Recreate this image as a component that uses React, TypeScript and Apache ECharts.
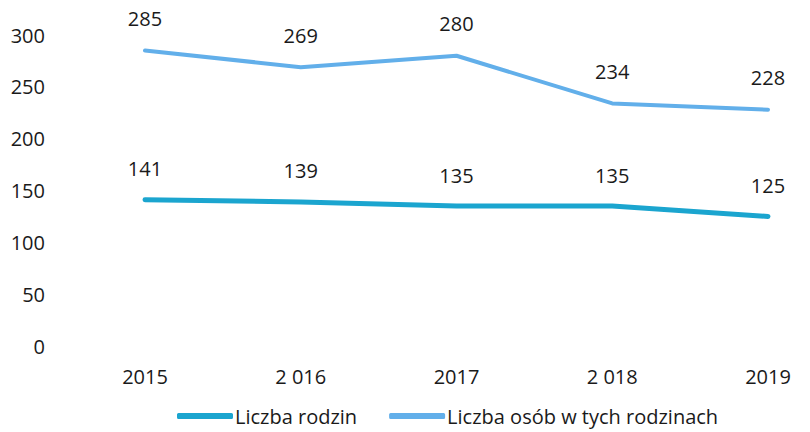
import React, { useEffect, useRef } from "react";
import * as echarts from "echarts";

const categories = ["2015", "2 016", "2017", "2 018", "2019"];
const rodziny = [141, 139, 135, 135, 125];
const osoby = [285, 269, 280, 234, 228];
const seriesNames = ["Liczba rodzin", "Liczba osób w tych rodzinach"];

const FONT = "'Open Sans', sans-serif";
const TXT = "#1a1a1a";

export default function App() {
  const ref = useRef<HTMLDivElement>(null);
  useEffect(() => {
    if (!ref.current) return;
    const chart = echarts.init(ref.current, undefined, { renderer: "svg" });
    chart.setOption({
      animation: false,
      backgroundColor: "#ffffff",
      textStyle: { fontFamily: FONT },
      grid: { left: 145, right: 42, top: 35, bottom: 86 },
      legend: {
        bottom: 1,
        left: 172,
        itemWidth: 56,
        itemHeight: 6,
        itemGap: 32,
        icon: "roundRect",
        textStyle: { fontFamily: FONT, fontSize: 20, color: TXT, padding: [0, 0, 0, -3] },
        data: seriesNames,
      },
      xAxis: {
        type: "category",
        data: categories,
        boundaryGap: false,
        axisLine: { show: false },
        axisTick: { show: false },
        axisLabel: { margin: 20, fontFamily: FONT, fontSize: 20, color: TXT },
      },
      yAxis: {
        type: "value",
        min: 0,
        max: 300,
        interval: 50,
        splitLine: { show: false },
        axisLine: { show: false },
        axisTick: { show: false },
        axisLabel: { margin: 100, fontFamily: FONT, fontSize: 20, color: TXT },
      },
      series: [
        {
          name: seriesNames[0],
          type: "line",
          data: rodziny,
          symbol: "circle",
          symbolSize: 0,
          showSymbol: true,
          color: "#1ba5cf",
          lineStyle: { width: 5, color: "#1ba5cf", cap: "round" },
          label: {
            show: true,
            position: "top",
            distance: 21,
            fontFamily: FONT,
            fontSize: 20,
            color: TXT,
          },
        },
        {
          name: seriesNames[1],
          type: "line",
          data: osoby,
          symbol: "circle",
          symbolSize: 0,
          showSymbol: true,
          color: "#62afea",
          lineStyle: { width: 4, color: "#62afea", cap: "round" },
          label: {
            show: true,
            position: "top",
            distance: 22,
            fontFamily: FONT,
            fontSize: 20,
            color: TXT,
          },
        },
      ],
    });
    return () => chart.dispose();
  }, []);
  return (
    <div
      ref={ref}
      style={{ position: "fixed", left: 0, top: 0, width: 810, height: 432 }}
    />
  );
}
